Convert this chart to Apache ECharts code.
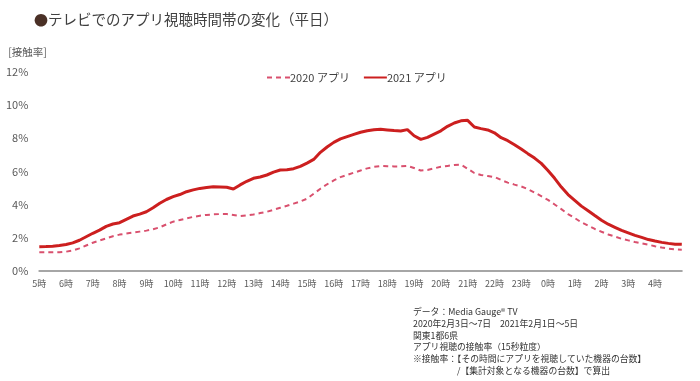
<!DOCTYPE html>
<html>
<head>
<meta charset="utf-8">
<script src="https://cdn.jsdelivr.net/npm/echarts@6/dist/echarts.min.js"></script>
<style>
html,body{margin:0;padding:0;background:#fff;}
#chart{width:700px;height:381px;}
</style>
</head>
<body>
<div id="chart"></div>
<script>
// Hour tick labels (axis runs from 5時 to next 5時)
const hourLabels = ['5時','6時','7時','8時','9時','10時','11時','12時','13時','14時','15時','16時','17時','18時','19時','20時','21時','22時','23時','0時','1時','2時','3時','4時'];
const seriesNames = ['2020 アプリ', '2021 アプリ'];

// 接触率 (%) every 15 minutes from 5:00 to 5:00 next day (97 points)
const v2020 = [
  1.11,1.11,1.11,1.12, 1.15,1.22,1.35,1.52, 1.69,1.82,1.95,2.08,
  2.18,2.24,2.30,2.36, 2.42,2.50,2.62,2.80, 2.96,3.06,3.16,3.25,
  3.32,3.37,3.40,3.42, 3.42,3.36,3.30,3.34, 3.40,3.48,3.56,3.68,
  3.80,3.92,4.05,4.18, 4.35,4.65,4.95,5.22, 5.45,5.65,5.78,5.92,
  6.05,6.18,6.27,6.32, 6.31,6.30,6.30,6.33, 6.20,6.05,6.08,6.18,
  6.28,6.33,6.38,6.40, 6.16,5.90,5.78,5.72, 5.66,5.48,5.32,5.20,
  5.09,4.93,4.72,4.50, 4.28,4.00,3.72,3.42, 3.18,2.92,2.72,2.52,
  2.35,2.19,2.06,1.93, 1.83,1.73,1.65,1.57, 1.48,1.40,1.33,1.29,
  1.27
];
const v2021 = [
  1.45,1.46,1.48,1.52, 1.58,1.68,1.84,2.05, 2.26,2.45,2.68,2.82,
  2.90,3.10,3.30,3.42, 3.56,3.80,4.07,4.30, 4.47,4.60,4.77,4.88,
  4.97,5.02,5.07,5.06, 5.04,4.93,5.18,5.40, 5.58,5.66,5.78,5.95,
  6.08,6.10,6.16,6.30, 6.50,6.72,7.15,7.47, 7.75,7.96,8.10,8.23,
  8.36,8.45,8.51,8.54, 8.50,8.46,8.44,8.52, 8.15,7.93,8.05,8.25,
  8.45,8.72,8.92,9.05, 9.08,8.68,8.58,8.50, 8.33,8.03,7.85,7.61,
  7.35,7.07,6.80,6.48, 6.05,5.58,5.05,4.60, 4.25,3.90,3.62,3.33,
  3.05,2.81,2.62,2.43, 2.28,2.13,2.01,1.88, 1.79,1.71,1.65,1.60,
  1.59
];
const notes = [
  'データ：Media Gauge® TV',
  '2020年2月3日～7日　2021年2月1日～5日',
  '関東1都6県',
  'アプリ視聴の接触率（15秒粒度）',
  '※接触率：【その時間にアプリを視聴していた機器の台数】',
  '　　　　　/【集計対象となる機器の台数】で算出'
];

const FONT = '"Noto Sans CJK JP", "Noto Sans", sans-serif';
const toPairs = arr => arr.map((v, i) => [i / 4, v]);

const chart = echarts.init(document.getElementById('chart'), null, {renderer: 'canvas'});
chart.setOption({
  animation: false,
  backgroundColor: '#ffffff',
  textStyle: {fontFamily: FONT},
  title: {
    text: '{b|●}テレビでのアプリ視聴時間帯の変化（平日）',
    left: 29, top: 7,
    textStyle: {
      fontFamily: FONT, fontSize: 14.5, fontWeight: 'normal', color: '#404040',
      rich: {b: {fontFamily: FONT, fontSize: 14, color: '#4a3026'}}
    }
  },
  legend: {
    data: seriesNames,
    left: 261, top: 67,
    itemWidth: 23, itemHeight: 8, itemGap: 13,
    itemStyle: {opacity: 0},
    textStyle: {fontFamily: FONT, fontSize: 11, color: '#404040', padding: [0,0,0,-5]}
  },
  grid: {left: 39.3, right: 18.2, top: 72, bottom: 110.3, containLabel: false},
  xAxis: {
    type: 'value', min: 0, max: 24, interval: 1,
    axisLine: {show: true, lineStyle: {color: '#a6a6a6', width: 2}},
    axisTick: {show: false},
    splitLine: {show: false},
    axisLabel: {
      color: '#595959', fontSize: 9, fontFamily: FONT, margin: 8,
      formatter: v => (hourLabels[v] !== undefined ? hourLabels[v] : '')
    }
  },
  yAxis: {
    type: 'value', min: 0, max: 12, interval: 2,
    name: '[接触率]', nameLocation: 'end', nameGap: 15,
    nameTextStyle: {color: '#595959', fontSize: 10.5, fontFamily: FONT, align: 'left', padding: [0,0,0,-31]},
    axisLine: {show: false}, axisTick: {show: false}, splitLine: {show: false},
    axisLabel: {color: '#595959', fontSize: 11, fontFamily: FONT, margin: 11, formatter: '{value}%'}
  },
  series: [
    {
      name: seriesNames[0], type: 'line', data: toPairs(v2020),
      symbol: 'none', smooth: false,
      lineStyle: {color: '#d9506e', width: 2, type: [5, 4]},
      itemStyle: {color: '#d9506e'}
    },
    {
      name: seriesNames[1], type: 'line', data: toPairs(v2021),
      symbol: 'none', smooth: false,
      lineStyle: {color: '#cc1f1f', width: 3},
      itemStyle: {color: '#cc1f1f'}
    }
  ],
  graphic: [{
    type: 'text', left: 413, top: 306,
    style: {text: notes.join('\n'), fontFamily: FONT, fontSize: 8.8, lineHeight: 11.7, fill: '#333333'}
  }]
});
</script>
</body>
</html>
